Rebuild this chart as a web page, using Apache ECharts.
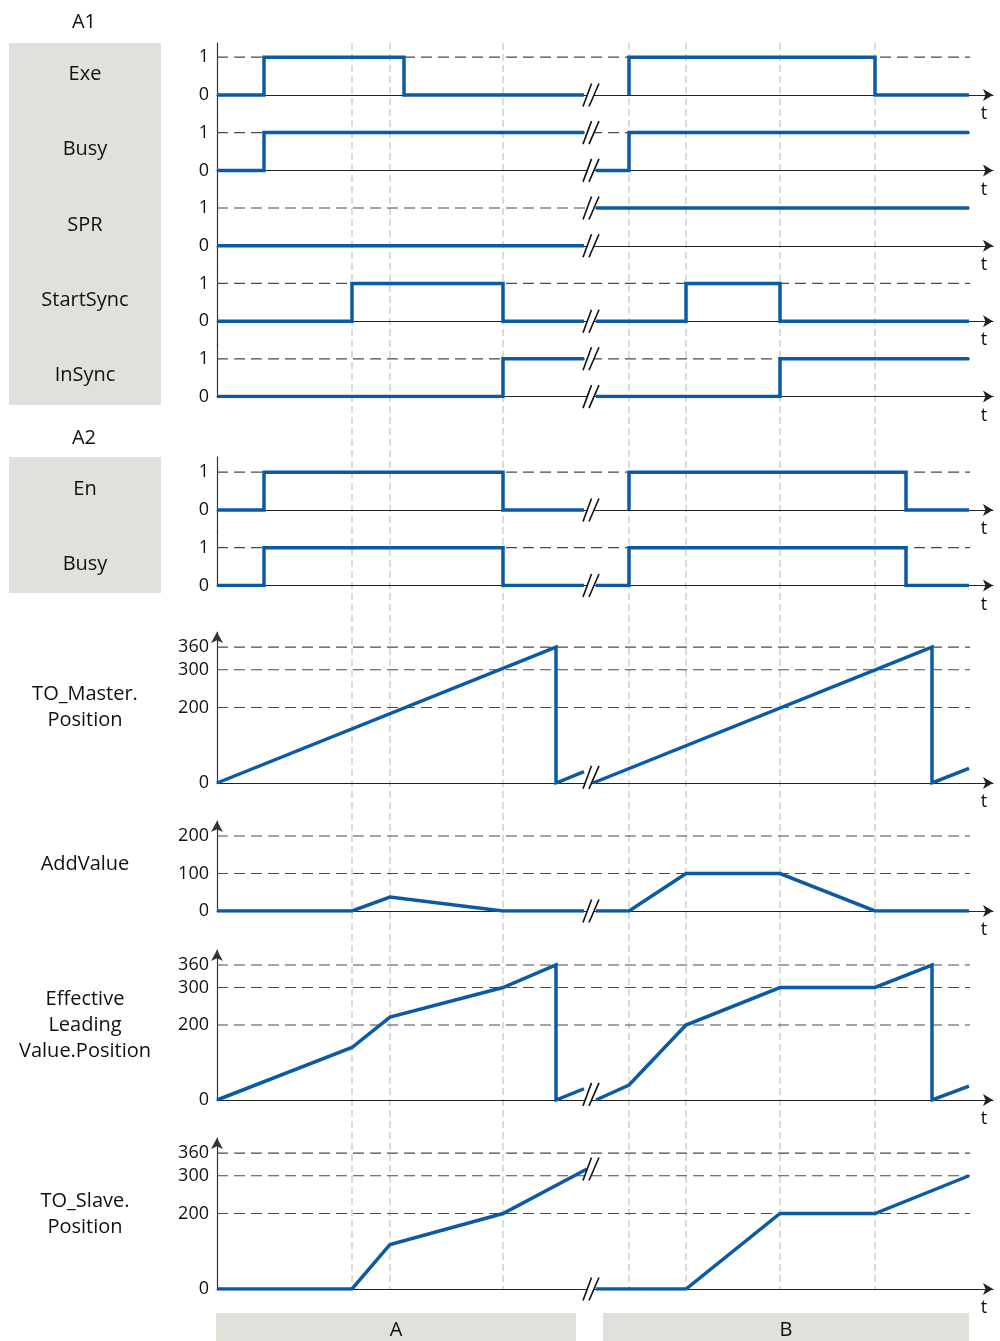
<!DOCTYPE html>
<html>
<head>
<meta charset="utf-8">
<script src="https://cdn.jsdelivr.net/npm/echarts@6/dist/echarts.min.js"></script>
<style>
  html, body { margin: 0; padding: 0; background: #fff; }
  #chart { width: 1000px; height: 1341px; }
</style>
</head>
<body>
<div id="chart"></div>
<script>
// ---- time axis (arbitrary units) ----
const T_MAX = 776;      // end of the time axis (arrow)
const T_END = 753;      // end of reference level lines
const BREAK_T = 374;    // position of the time-axis interruption "//"

// instants marked by vertical guide lines
const guideTimes = [135, 173, 286, 412, 469, 563, 658];

// ---- binary signals: [t, level], null = interruption of the time axis ----
const exe       = [[0,0],[47,0],[47,1],[187,1],[187,0],[367,0], null, [412,0],[412,1],[658,1],[658,0],[752,0]];
const busyA1    = [[0,0],[47,0],[47,1],[367,1], null, [379,0],[412,0],[412,1],[752,1]];
const spr       = [[0,0],[367,0], null, [379,1],[752,1]];
const startSync = [[0,0],[135,0],[135,1],[286,1],[286,0],[367,0], null, [379,0],[469,0],[469,1],[563,1],[563,0],[752,0]];
const inSync    = [[0,0],[286,0],[286,1],[367,1], null, [379,0],[563,0],[563,1],[752,1]];
const en        = [[0,0],[47,0],[47,1],[286,1],[286,0],[367,0], null, [412,0],[412,1],[689,1],[689,0],[752,0]];
const busyA2    = [[0,0],[47,0],[47,1],[286,1],[286,0],[367,0], null, [379,0],[412,0],[412,1],[689,1],[689,0],[752,0]];

// ---- analog signals: [t, value] ----
const masterPos = [[0,0],[339,360],[339,0],[367,30], null, [376,0],[715,360],[715,0],[752,39]];
const addValue  = [[0,0],[135,0],[173,37],[286,0],[367,0], null, [379,0],[412,0],[469,100],[563,100],[658,0],[752,0]];
const effPos    = [[0,0],[135,140],[173,221],[286,300],[339,360],[339,0],[367,30], null, [379,0],[412,40],[469,200],[563,300],[658,300],[715,360],[715,0],[752,37]];
const slavePos  = [[0,0],[135,0],[173,118],[286,200],[370,318], null, [379,0],[469,0],[563,200],[658,200],[752,300]];

// ---- tick labels / reference levels ----
const binTicks    = [0, 1];
const binLevels   = [1];
const posTicks    = [0, 200, 300, 360];
const posLevels   = [200, 300, 360];
const addTicks    = [0, 100, 200];
const addLevels   = [100, 200];

// ---- row captions ----
const groupTitles = ['A1', 'A2'];
const rowLabels = ['Exe', 'Busy', 'SPR', 'StartSync', 'InSync', 'En', 'Busy',
                   'TO_Master.\nPosition', 'AddValue', 'Effective\nLeading\nValue.Position', 'TO_Slave.\nPosition'];

// ---- phases below the time axis ----
const phaseNames = ['A', 'B'];
const phaseFrom  = [-1, 386];
const phaseTo    = [359, 752];

// ================= layout =================
const FONT = '"Open Sans", "Noto Sans", sans-serif';
const BLUE = '#0b5aa6';
const TEXT = '#111';
const X0 = 217, XW = 776;
const BIN_UNIT = 37.8;

// binary rows: zero-line y, grid top, grid bottom
const binRows = [];
for (let i = 0; i < 5; i++) {
  const z = 95 + 75.4 * i;
  binRows.push({ z, top: z - 52, bottom: i < 4 ? z + 23.4 : z });
}
binRows.push({ z: 510, top: 457, bottom: 532.5 });
binRows.push({ z: 585.5, top: 532.5, bottom: 585.5 });

const binData = [exe, busyA1, spr, startSync, inSync, en, busyA2];

// analog panels: grid top/bottom and y max
const anaRows = [
  { top: 632, bottom: 783, max: 400, data: masterPos, ticks: posTicks, levels: posLevels },
  { top: 821, bottom: 911, max: 240, data: addValue,  ticks: addTicks, levels: addLevels },
  { top: 950, bottom: 1100, max: 400, data: effPos,   ticks: posTicks, levels: posLevels },
  { top: 1138, bottom: 1289, max: 400, data: slavePos, ticks: posTicks, levels: posLevels }
];

// ================= option building =================
const grids = [], xAxes = [], yAxes = [], series = [];

function splitSegments(arr) {
  const segs = [[]];
  arr.forEach(p => { if (p === null) segs.push([]); else segs[segs.length - 1].push(p); });
  return segs;
}

function breakPoints(segs, range) {
  const pts = [];
  for (let i = 0; i < segs.length - 1; i++) {
    const a = segs[i][segs[i].length - 1][1];
    const b = segs[i + 1][0][1];
    if (Math.abs(a - b) <= range * 0.1) pts.push([BREAK_T, (a + b) / 2]);
    else { pts.push([BREAK_T, a]); pts.push([BREAK_T, b]); }
  }
  return pts;
}

function addPanel(gi, top, bottom, yMin, yMax, data, ticks, levels, arrowY) {
  grids.push({ left: X0, top: top, width: XW, height: bottom - top });
  xAxes.push({
    type: 'value', gridIndex: gi, min: 0, max: T_MAX,
    axisLine: { show: true, onZero: true, symbol: ['none', 'arrow'], symbolSize: [9, 10],
                lineStyle: { color: '#222', width: 1.2 } },
    axisTick: { show: false }, axisLabel: { show: false }, splitLine: { show: false },
    name: 't', nameLocation: 'end', nameGap: -9,
    nameTextStyle: { color: TEXT, fontSize: 18, fontFamily: FONT, align: 'center', verticalAlign: 'top', padding: [10, 0, 0, 0] }
  });
  yAxes.push({
    type: 'value', gridIndex: gi, min: yMin, max: yMax,
    axisLine: { show: true, onZero: true, symbol: arrowY ? ['none', 'arrow'] : 'none', symbolSize: [9, 11],
                lineStyle: { color: '#333', width: 1.2 } },
    axisTick: { show: false }, splitLine: { show: false },
    axisLabel: { customValues: ticks, color: TEXT, fontSize: 18, fontFamily: FONT, margin: 8 }
  });
  // dashed reference levels
  series.push({
    type: 'custom', xAxisIndex: gi, yAxisIndex: gi, z: 1, silent: true,
    data: levels.map(v => [0, v]),
    renderItem: (params, api) => {
      const a = api.coord([0, api.value(1)]);
      const b = api.coord([T_END, api.value(1)]);
      return { type: 'line', shape: { x1: a[0], y1: a[1], x2: b[0], y2: b[1] },
               style: { stroke: '#4a4a4a', lineWidth: 1.2, lineDash: [11, 6] } };
    }
  });
  // signal trace
  const segs = splitSegments(data);
  segs.forEach(seg => {
    series.push({
      type: 'line', xAxisIndex: gi, yAxisIndex: gi, z: 3, silent: true,
      data: seg, showSymbol: false, symbol: 'none',
      lineStyle: { color: BLUE, width: 3.5, join: 'miter' }
    });
  });
  // interruption marks "//"
  series.push({
    type: 'custom', xAxisIndex: gi, yAxisIndex: gi, z: 5, silent: true,
    data: breakPoints(segs, yMax - Math.max(yMin, 0)),
    renderItem: (params, api) => {
      const c = api.coord([api.value(0), api.value(1)]);
      const x = c[0], y = c[1], h = 11.5;
      return { type: 'group', children: [
        { type: 'polygon', shape: { points: [[x - 8, y + h], [x + 0.5, y - h], [x + 8, y - h], [x - 2, y + h]] },
          style: { fill: '#fff' } },
        { type: 'line', shape: { x1: x - 8, y1: y + h, x2: x + 0.5, y2: y - h }, style: { stroke: '#111', lineWidth: 1.6 } },
        { type: 'line', shape: { x1: x - 2, y1: y + h, x2: x + 8, y2: y - h }, style: { stroke: '#111', lineWidth: 1.6 } }
      ] };
    }
  });
}

// background grid carrying the vertical guide lines
grids.push({ left: X0, top: 43, width: XW, height: 1289 - 43 });
xAxes.push({ type: 'value', gridIndex: 0, min: 0, max: T_MAX, show: false });
yAxes.push({ type: 'value', gridIndex: 0, min: 0, max: 1, show: false });
series.push({
  type: 'custom', xAxisIndex: 0, yAxisIndex: 0, z: 0, silent: true,
  data: guideTimes.map(t => [t, 0]),
  renderItem: (params, api) => {
    const a = api.coord([api.value(0), 1]);
    const b = api.coord([api.value(0), 0]);
    return { type: 'line', shape: { x1: a[0], y1: a[1], x2: b[0], y2: b[1] },
             style: { stroke: '#c8c8c8', lineWidth: 1.3, lineDash: [7, 4] } };
  }
});

let gi = 1;
binRows.forEach((r, i) => {
  addPanel(gi, r.top, r.bottom, -(r.bottom - r.z) / BIN_UNIT, (r.z - r.top) / BIN_UNIT,
           binData[i], binTicks, binLevels, false);
  gi++;
});
const slaveGrid = gi + anaRows.length - 1;
anaRows.forEach(r => {
  addPanel(gi, r.top, r.bottom, 0, r.max, r.data, r.ticks, r.levels, true);
  gi++;
});

// phase boxes under the last time axis
series.push({
  type: 'custom', xAxisIndex: slaveGrid, yAxisIndex: slaveGrid, z: 1, silent: true,
  data: phaseNames.map((n, i) => [phaseFrom[i], 0, phaseTo[i], i]),
  renderItem: (params, api) => {
    const a = api.coord([api.value(0), 0]);
    const b = api.coord([api.value(2), 0]);
    const y = a[1] + 24;
    return { type: 'group', children: [
      { type: 'rect', shape: { x: a[0], y: y, width: b[0] - a[0], height: 28 }, style: { fill: '#e1e1db' } },
      { type: 'text', style: { text: phaseNames[api.value(3)], x: (a[0] + b[0]) / 2, y: y + 17,
          align: 'center', verticalAlign: 'middle', fill: TEXT, font: '20px ' + FONT } }
    ] };
  }
});

// captions on the left
const graphics = [
  { type: 'rect', left: 9, top: 43, shape: { width: 152, height: 362 }, style: { fill: '#e1e1db' }, z: -1 },
  { type: 'rect', left: 9, top: 457, shape: { width: 152, height: 136 }, style: { fill: '#e1e1db' }, z: -1 }
];
const titleY = [22, 438];
groupTitles.forEach((t, i) => {
  graphics.push({ type: 'text', x: 84, y: titleY[i],
    style: { text: t, align: 'center', verticalAlign: 'middle', fill: TEXT, font: '20px ' + FONT } });
});
const labelY = binRows.map(r => r.z - 21).concat([707, 864, 1025, 1214]);
rowLabels.forEach((t, i) => {
  graphics.push({ type: 'text', x: 85, y: labelY[i],
    style: { text: t, align: 'center', verticalAlign: 'middle', fill: TEXT, font: '20px ' + FONT, lineHeight: 26 } });
});

const chart = echarts.init(document.getElementById('chart'), null, { renderer: 'canvas' });
chart.setOption({
  animation: false,
  backgroundColor: '#fff',
  grid: grids,
  xAxis: xAxes,
  yAxis: yAxes,
  series: series,
  graphic: graphics
});
</script>
</body>
</html>
